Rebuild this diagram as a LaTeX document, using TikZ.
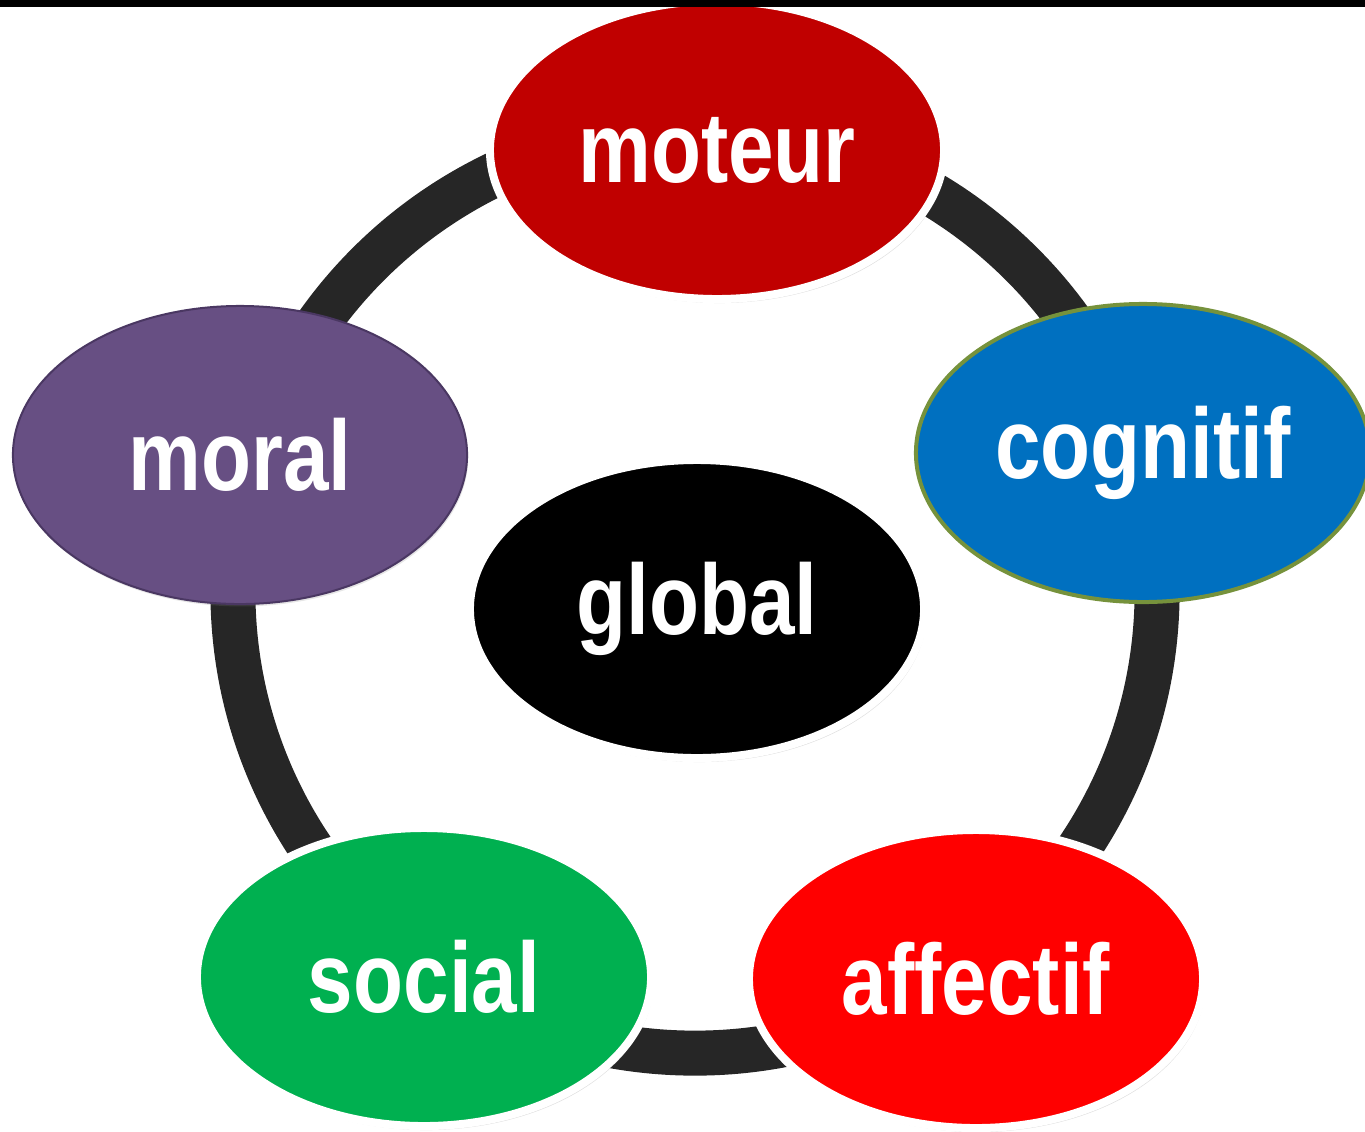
\documentclass[tikz,border=0pt]{standalone}
\usepackage{fontspec}
\newfontfamily\bubblefont{Liberation Sans}[FakeStretch=0.82]
\usetikzlibrary{shapes.geometric,shadows}
\definecolor{ringgray}{HTML}{262626}
\definecolor{moteurred}{HTML}{C00000}
\definecolor{cogblue}{HTML}{0070C0}
\definecolor{cogrim}{HTML}{76923C}
\definecolor{affred}{HTML}{FF0000}
\definecolor{socgreen}{HTML}{00B050}
\definecolor{moralpurple}{HTML}{674F83}
\definecolor{moralrim}{HTML}{4A3762}
\begin{document}
\begin{tikzpicture}[x=0.025cm,y=-0.025cm,line join=round,line cap=round,
	bubble/.style={ellipse,minimum width=11.35cm,minimum height=7.45cm,inner sep=0pt,text=white,
		font=\bubblefont\bfseries\fontsize{71}{78}\selectfont},
	rimmed/.style={bubble,draw=white,line width=0.2cm,
		drop shadow={opacity=0.25,shadow xshift=0.06cm,shadow yshift=-0.1cm}}]
	\useasboundingbox (0,0) rectangle (1365,1131);
	% the ring behind the bubbles
	\coordinate (hub) at (695,591);
	\draw [ringgray, line width=1.125cm] (hub) circle (11.55cm);
	\node [rimmed, fill=moteurred] (moteur) at (717,150) {moteur};
	\node [bubble, fill=cogblue, draw=cogrim, line width=0.1cm] (cognitif) at (1143,453) {cognitif};
	\node [rimmed, fill=affred] (affectif) at (976,979) {affectif};
	\node [rimmed, fill=socgreen] (social) at (424,977) {social};
	\node [bubble, fill=moralpurple, draw=moralrim, line width=0.05cm,
		drop shadow={opacity=0.2,shadow xshift=0.03cm,shadow yshift=-0.06cm}] (moral) at (240,455) {moral};
	\node [rimmed, fill=black] (global) at (697,609) {global};
	\fill [black] (0,0) rectangle (1365,7);
\end{tikzpicture}
\end{document}
